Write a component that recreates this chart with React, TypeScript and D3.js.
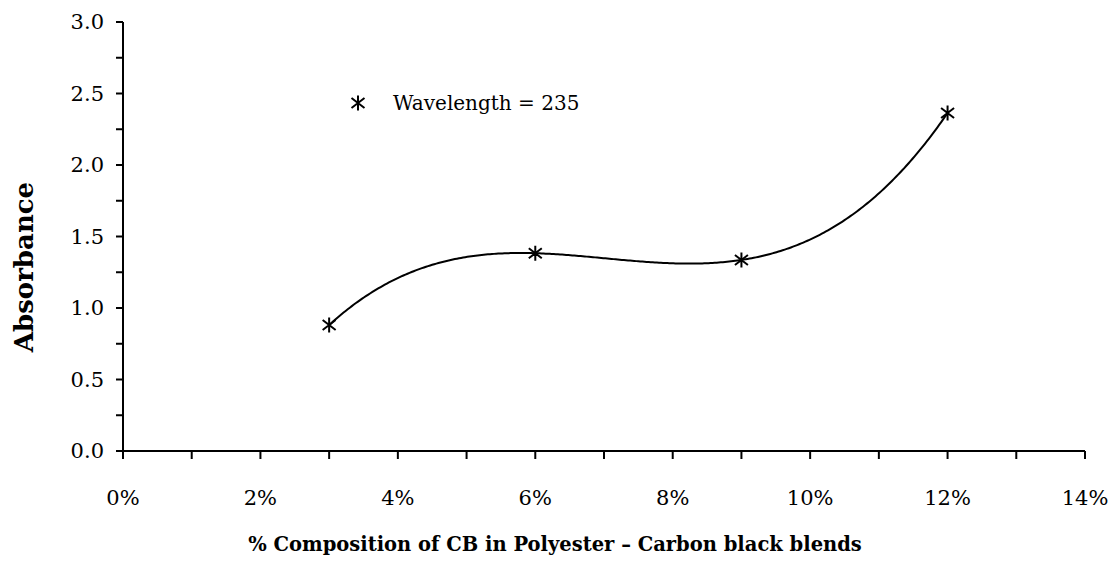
import React from 'react';
import * as d3 from 'd3';

// composition of CB (fraction) and absorbance at 235 nm
const composition = [0.03, 0.06, 0.09, 0.12];
const absorbance = [0.881, 1.383, 1.336, 2.364];
const xTicks = [0, 0.02, 0.04, 0.06, 0.08, 0.1, 0.12, 0.14];
const yTicks = [0, 0.5, 1.0, 1.5, 2.0, 2.5, 3.0];
const legendLabel = 'Wavelength = 235';

const W = 1114;
const H = 563;
const FONT = '"DejaVu Serif", serif';

// least squares polynomial fit (trendline, order 3)
function polyFit(xs: number[], ys: number[], order: number): number[] {
  const n = order + 1;
  const A: number[][] = [];
  for (let i = 0; i < n; i++) {
    A.push([]);
    for (let j = 0; j < n; j++) A[i].push(d3.sum(xs, x => Math.pow(x, i + j)));
    A[i].push(d3.sum(xs, (x, k) => Math.pow(x, i) * ys[k]));
  }
  for (let c = 0; c < n; c++) {
    let p = c;
    for (let r = c + 1; r < n; r++) if (Math.abs(A[r][c]) > Math.abs(A[p][c])) p = r;
    [A[c], A[p]] = [A[p], A[c]];
    for (let r = 0; r < n; r++) {
      if (r === c) continue;
      const f = A[r][c] / A[c][c];
      for (let k = c; k <= n; k++) A[r][k] -= f * A[c][k];
    }
  }
  return A.map((row, i) => row[n] / row[i]);
}

const App: React.FC = () => {
  const x = d3.scaleLinear().domain([0, 0.14]).range([123, 1085]);
  const y = d3.scaleLinear().domain([0, 3]).range([451, 22]);

  const coef = polyFit(composition, absorbance, 3);
  const evalPoly = (v: number) => coef.reduce((s, c, i) => s + c * Math.pow(v, i), 0);
  const [x0, x1] = d3.extent(composition) as [number, number];
  const samples = d3.range(0, 301).map(i => x0 + ((x1 - x0) * i) / 300);
  const line = d3.line<number>().x(d => x(d)).y(d => y(evalPoly(d)));

  const minorX = d3.range(0, 15).map(i => i / 100);
  const minorY = d3.range(0, 13).map(i => i * 0.25);

  const marker = 'M0,-7.5V7.5M-6.5,-5L6.5,5M-6.5,5L6.5,-5';

  return (
    <svg width={W} height={H} style={{ position: 'fixed', left: 0, top: 0, background: '#fff' }} fontFamily={FONT}>
      {/* axes */}
      <line x1={x(0)} x2={x(0.14)} y1={y(0)} y2={y(0)} stroke="#000" strokeWidth={2} />
      <line x1={x(0)} x2={x(0)} y1={y(0)} y2={y(3)} stroke="#000" strokeWidth={2} />
      {minorX.map(t => (
        <line key={'xt' + t} x1={x(t)} x2={x(t)} y1={y(0)} y2={y(0) + 8} stroke="#000" strokeWidth={2} />
      ))}
      {minorY.map(t => (
        <line key={'yt' + t} x1={x(0) - 7} x2={x(0)} y1={y(t)} y2={y(t)} stroke="#000" strokeWidth={2} />
      ))}
      {xTicks.map(t => (
        <text key={'xl' + t} x={x(t)} y={505} textAnchor="middle" fontSize={21}>
          {d3.format('.0%')(t)}
        </text>
      ))}
      {yTicks.map(t => (
        <text key={'yl' + t} x={104} y={y(t)} dy="0.35em" textAnchor="end" fontSize={21}>
          {d3.format('.1f')(t)}
        </text>
      ))}

      {/* trendline and markers */}
      <path d={line(samples) || ''} fill="none" stroke="#000" strokeWidth={2} strokeLinejoin="round" />
      {composition.map((c, i) => (
        <path key={'m' + i} d={marker} transform={`translate(${x(c)},${y(absorbance[i])})`} stroke="#000" strokeWidth={2} fill="none" />
      ))}

      {/* legend */}
      <path d={marker} transform="translate(358,103)" stroke="#000" strokeWidth={2} fill="none" />
      <text x={393} y={110} fontSize={20}>{legendLabel}</text>

      {/* axis titles */}
      <text x={555} y={551} textAnchor="middle" fontSize={19.5} fontWeight="bold">
        % Composition of CB in Polyester – Carbon black blends
      </text>
      <text transform="translate(33,267) rotate(-90)" textAnchor="middle" fontSize={26} fontWeight="bold">
        Absorbance
      </text>
    </svg>
  );
};

export default App;
